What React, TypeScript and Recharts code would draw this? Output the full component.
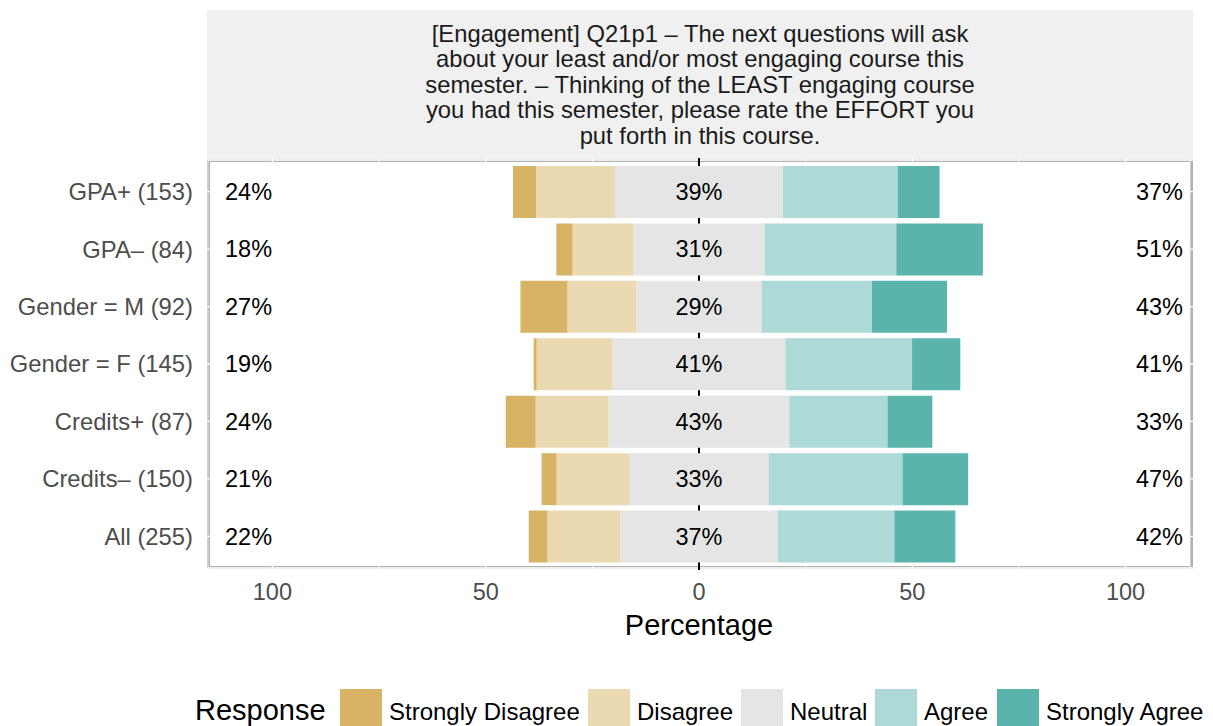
import React from "react";
import { BarChart, Bar, XAxis, YAxis, CartesianGrid, LabelList } from "recharts";

const categories = [
  "GPA+ (153)",
  "GPA– (84)",
  "Gender = M (92)",
  "Gender = F (145)",
  "Credits+ (87)",
  "Credits– (150)",
  "All (255)",
];
const stronglyDisagree = [5.4, 3.8, 11.0, 0.7, 7.0, 3.5, 4.4];
const disagree = [18.5, 14.3, 16.2, 17.8, 17.1, 17.1, 17.1];
const neutral = [39.4, 30.7, 29.3, 40.5, 42.4, 32.6, 36.8];
const agree = [26.9, 30.9, 25.9, 29.7, 23.0, 31.4, 27.4];
const stronglyAgree = [9.8, 20.3, 17.6, 11.3, 10.5, 15.4, 14.3];

const lowLabels = ["24%", "18%", "27%", "19%", "24%", "21%", "22%"];
const neutralLabels = ["39%", "31%", "29%", "41%", "43%", "33%", "37%"];
const highLabels = ["37%", "51%", "43%", "41%", "33%", "47%", "42%"];

const xTicks = [-100, -75, -50, -25, 0, 25, 50, 75, 100];

const titleLines = [
  "[Engagement] Q21p1 – The next questions will ask",
  "about your least and/or most engaging course this",
  "semester. – Thinking of the LEAST engaging course",
  "you had this semester, please rate the EFFORT you",
  "put forth in this course.",
];

const responses = ["Strongly Disagree", "Disagree", "Neutral", "Agree", "Strongly Agree"];
const colors = ["#D8B365", "#EBD9B2", "#E5E5E5", "#ADD9D6", "#5AB4AC"];

const rows = categories.map((name, i) => ({
  name,
  nl: -neutral[i] / 2,
  d: -disagree[i],
  sd: -stronglyDisagree[i],
  nr: neutral[i] / 2,
  a: agree[i],
  sa: stronglyAgree[i],
  low: lowLabels[i],
  mid: neutralLabels[i],
  high: highLabels[i],
}));

const W = 1213;
const H = 726;
const PLOT_LEFT = 208;
const PLOT_RIGHT = 1190;
const ZERO_X = (PLOT_LEFT + PLOT_RIGHT) / 2;
const FONT = "'Liberation Sans', Arial, sans-serif";

const gridV = (p: any) => {
  const v = xTicks[p.index];
  const zero = v === 0;
  return (
    <line
      key={p.key}
      x1={p.x1}
      x2={p.x2}
      y1={p.y1 - 2}
      y2={p.y2 + 2}
      stroke={zero ? "#000" : "#fff"}
      strokeWidth={zero ? 2 : v % 50 === 0 ? 1.3 : 0.7}
    />
  );
};

const gridH = (p: any) => (
  <line key={p.key} x1={p.x1 - 2} x2={p.x2 + 3} y1={p.y1} y2={p.y2} stroke="#fff" strokeWidth={1.3} />
);

const pctLabel = (x: number, anchor: "start" | "middle" | "end") => (p: any) => (
  <text
    x={x}
    y={p.y + p.height / 2}
    textAnchor={anchor}
    dominantBaseline="central"
    fontSize={23.5}
    fontFamily={FONT}
    fill="#000"
  >
    {p.value}
  </text>
);

const keyLefts = [340, 588, 741, 875, 997];

export default function App() {
  return (
    <div style={{ position: "absolute", left: 0, top: 0, width: W, height: H, overflow: "hidden", background: "#fff", fontFamily: FONT }}>
      <div
        style={{
          position: "absolute",
          left: 207,
          top: 10,
          width: 986,
          height: 149,
          background: "#F0F0F0",
          display: "flex",
          flexDirection: "column",
          justifyContent: "center",
          alignItems: "center",
          color: "#1A1A1A",
          fontSize: 23.8,
          lineHeight: "25.5px",
          textAlign: "center",
        }}
      >
        {titleLines.map((t) => (
          <div key={t}>{t}</div>
        ))}
      </div>
      <div
        style={{
          position: "absolute",
          left: 207,
          top: 159,
          width: 986,
          height: 410,
          border: "3px solid #B3B3B3",
          boxSizing: "border-box",
        }}
      />
      <div style={{ position: "absolute", left: 0, top: 0 }}>
        <BarChart
          width={W}
          height={H}
          data={rows}
          layout="vertical"
          stackOffset="sign"
          barSize={52}
          margin={{ top: 160, right: W - PLOT_RIGHT, bottom: 78, left: 0 }}
        >
          <CartesianGrid vertical={gridV} horizontal={gridH} />
          <XAxis
            type="number"
            domain={[-115.1, 115.1]}
            ticks={xTicks}
            interval={0}
            allowDataOverflow
            tickFormatter={(v: number) => (v % 50 === 0 ? String(Math.abs(v)) : "")}
            tickLine={false}
            axisLine={false}
            tickMargin={9}
            height={80}
            tick={{ fill: "#4D4D4D", fontSize: 23.5, fontFamily: FONT }}
            label={({ viewBox }: any) => (
              <text
                x={viewBox.x + viewBox.width / 2}
                y={viewBox.y + 57}
                textAnchor="middle"
                dominantBaseline="central"
                fontSize={29}
                fontFamily={FONT}
                fill="#000"
              >
                Percentage
              </text>
            )}
          />
          <YAxis
            type="category"
            dataKey="name"
            width={PLOT_LEFT}
            padding={{ top: 3, bottom: 3 }}
            tickLine={false}
            axisLine={false}
            tickMargin={9}
            tick={{ fill: "#4D4D4D", fontSize: 23.8, fontFamily: FONT }}
          />
          <Bar dataKey="nl" stackId="s" fill={colors[2]} isAnimationActive={false} />
          <Bar dataKey="d" stackId="s" fill={colors[1]} isAnimationActive={false} />
          <Bar dataKey="sd" stackId="s" fill={colors[0]} isAnimationActive={false}>
            <LabelList dataKey="low" content={pctLabel(PLOT_LEFT + 17, "start")} />
          </Bar>
          <Bar dataKey="nr" stackId="s" fill={colors[2]} isAnimationActive={false}>
            <LabelList dataKey="mid" content={pctLabel(ZERO_X, "middle")} />
          </Bar>
          <Bar dataKey="a" stackId="s" fill={colors[3]} isAnimationActive={false} />
          <Bar dataKey="sa" stackId="s" fill={colors[4]} isAnimationActive={false}>
            <LabelList dataKey="high" content={pctLabel(PLOT_RIGHT - 7, "end")} />
          </Bar>
        </BarChart>
      </div>
      <div style={{ position: "absolute", left: 195, top: 689, height: 43, lineHeight: "43px", fontSize: 29, color: "#000" }}>
        Response
      </div>
      {responses.map((r, i) => (
        <React.Fragment key={r}>
          <div style={{ position: "absolute", left: keyLefts[i], top: 689, width: 42, height: 42, background: colors[i] }} />
          <div
            style={{
              position: "absolute",
              left: keyLefts[i] + 49,
              top: 690,
              height: 43,
              lineHeight: "43px",
              fontSize: 24,
              color: "#000",
              whiteSpace: "nowrap",
            }}
          >
            {r}
          </div>
        </React.Fragment>
      ))}
    </div>
  );
}
